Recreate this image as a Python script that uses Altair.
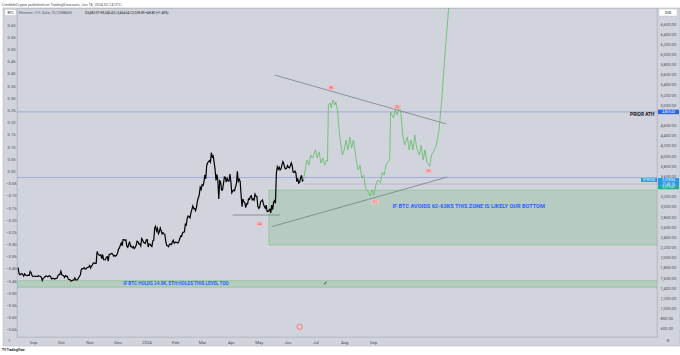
import altair as alt
import pandas as pd

FONT = "Roboto"

# ---------------- data ----------------
# ETH/USD daily closes (Coinbase), 16 Aug 2023 .. 18 Jun 2024
aug23 = [1806,1686,1662,1680,1690,1668,1636,1682,1660,1651,1646,1656,1652,1729,1705,1646]
sep23 = [1628,1635,1636,1630,1633,1633,1646,1635,1635,1616,1551,1593,1607,1626,1641,1636,1623,1638,1645,1623,
         1584,1593,1592,1580,1588,1594,1599,1653,1667,1671]
oct23 = [1733,1664,1654,1647,1611,1645,1633,1633,1579,1568,1566,1540,1552,1557,1557,1600,1565,1564,1567,1604,
         1630,1663,1765,1786,1786,1804,1777,1780,1802,1809,1815]
nov23 = [1846,1797,1834,1859,1894,1899,1886,1888,2120,2077,2054,2046,2057,1980,2060,1962,1960,1962,2012,2022,
         1932,2064,2063,2081,2084,2063,2028,2048,2030,2051]
dec23 = [2089,2165,2192,2242,2292,2232,2358,2358,2341,2351,2225,2203,2260,2316,2220,2227,2196,2217,2177,2201,
         2240,2326,2315,2268,2272,2229,2376,2346,2301,2292,2282]
jan24 = [2352,2356,2210,2268,2269,2240,2222,2331,2343,2585,2619,2524,2576,2472,2512,2587,2528,2467,2490,2469,
         2455,2309,2240,2235,2217,2268,2266,2258,2315,2344,2283]
feb24 = [2303,2307,2296,2290,2319,2373,2426,2420,2487,2503,2505,2658,2643,2776,2822,2806,2785,2882,2945,3016,
         2968,2970,2925,2989,3113,3180,3243,3385,3341]
mar24 = [3433,3421,3489,3630,3554,3816,3870,3893,3913,3879,4066,3983,4005,3877,3741,3521,3643,3516,3157,3516,
         3492,3334,3330,3452,3589,3584,3486,3561,3512,3508,3646]
apr24 = [3500,3279,3311,3330,3318,3394,3456,3699,3506,3545,3504,3240,3006,3155,3101,3084,2985,3063,3056,3156,
         3148,3201,3219,3139,3156,3130,3250,3210,3210,3012]
may24 = [2970,2989,3102,3118,3137,3063,3006,2973,3036,2910,2912,2929,2951,2881,3036,2945,3094,3123,3071,3664,
         3788,3741,3782,3727,3750,3828,3891,3845,3767,3747,3762]
jun24 = [3815,3780,3767,3811,3865,3811,3682,3681,3705,3667,3498,3561,3468,3481,3567,3623,3510,3529]
eth_close = aug23 + sep23 + oct23 + nov23 + dec23 + jan24 + feb24 + mar24 + apr24 + may24 + jun24
eth_start = "2023-08-16"

# projected path (green)
proj_dates = ["2024-06-18","2024-06-20","2024-06-22","2024-06-24","2024-06-26","2024-06-28","2024-07-01",
              "2024-07-03","2024-07-05","2024-07-07","2024-07-09","2024-07-11","2024-07-13","2024-07-14",
              "2024-07-15","2024-07-17","2024-07-18","2024-07-20","2024-07-22","2024-07-23","2024-07-25",
              "2024-07-27","2024-07-30","2024-08-01","2024-08-03","2024-08-05","2024-08-07","2024-08-09",
              "2024-08-11","2024-08-14","2024-08-16","2024-08-18","2024-08-20","2024-08-22","2024-08-24",
              "2024-08-27","2024-08-29","2024-08-31","2024-09-02","2024-09-04","2024-09-06","2024-09-09",
              "2024-09-11","2024-09-13","2024-09-15","2024-09-17","2024-09-19","2024-09-20","2024-09-23",
              "2024-09-25","2024-09-27","2024-09-29","2024-10-01","2024-10-03","2024-10-05","2024-10-08",
              "2024-10-10","2024-10-12","2024-10-14","2024-10-16","2024-10-18","2024-10-21","2024-10-23",
              "2024-10-25","2024-10-27","2024-10-29","2024-11-01","2024-11-03","2024-11-05","2024-11-08",
              "2024-11-11","2024-11-14","2024-11-17","2024-11-20","2024-11-23"]
proj_values = [3529,3726,3923,3824,4021,3962,4120,3962,4080,3864,3962,3824,3923,3900,5006,5045,4946,5104,5006,5065,
               4868,4415,4021,4120,4317,4120,4376,4159,4317,3923,3726,3824,3568,3627,3372,3293,3214,3332,3234,3431,
               3529,3470,3687,3627,3824,3884,3923,4868,4750,4907,4809,4986,4868,4415,4218,4376,4120,4317,4120,4415,
               4159,4021,4218,3923,4120,3884,3800,4021,4080,4200,4500,5104,5891,6580,7270]

# drawn trend lines
trend_names = ["upper", "upper", "lower", "lower", "support", "support"]
trend_dates = ["2024-05-18", "2024-11-19", "2024-05-15", "2024-11-20", "2024-04-03", "2024-05-24"]
trend_values = [5596, 4632, 2610, 3588, 2840, 2840]

# zones
zone_start = ["2024-05-12", "2023-08-01"]
zone_end = ["2025-08-01", "2025-08-01"]
zone_top = [3330, 1548]
zone_bottom = [2250, 1420]
zone_text = ["IF BTC AVOIDS 62-63KS THIS ZONE IS LIKELY OUR BOTTOM",
             "IF BTC HOLDS 24.8K, ETH HOLDS THIS LEVEL TOO"]
zone_text_dates = ["2024-12-13", "2024-02-02"]
zone_text_values = [3010, 1482]
zone_text_sizes = [5.6, 4.6]

# horizontal levels
prior_ath = 4869.43
last_price = 3578.84
second_line = 3450

# wave labels
wave_labels = ["(A)", "(B)", "(C)", "(D)", "(E)"]
wave_dates = ["2024-05-02", "2024-07-18", "2024-09-03", "2024-09-27", "2024-10-31"]
wave_values = [2663, 5346, 3096, 4972, 3706]

# axis ticks
right_ticks = [6600,6400,6200,6000,5800,5600,5400,5200,5000,4600,4400,4200,4000,3800,3600,
               3200,3000,2800,2600,2400,2200,2000,1800,1600,1400,1200,1000,800,600]
left_ticks = [0.60,0.55,0.50,0.45,0.40,0.35,0.30,0.25,0.20,0.15,0.10,0.05,0.00,-0.05,-0.10,
              -0.15,-0.20,-0.25,-0.30,-0.35,-0.40,-0.45,-0.50,-0.55,-0.60,-0.65]
month_ticks = [(2023,9),(2023,10),(2023,11),(2023,12),(2024,1),(2024,2),(2024,3),(2024,4),
               (2024,5),(2024,6),(2024,7),(2024,8),(2024,9)]

# ---------------- scales / axes ----------------
AX_COLOR = "#4a4d57"
xscale = alt.Scale(type="utc",
                   domain=[alt.DateTime(year=2023, month=8, date=14, hours=19, utc=True),
                           alt.DateTime(year=2025, month=7, date=3, hours=17, utc=True)])
xaxis = alt.Axis(values=[alt.DateTime(year=y, month=m, date=1, utc=True) for y, m in month_ticks],
                 labelExpr="utcmonth(datum.value)==0 ? utcFormat(datum.value,'%Y') : utcFormat(datum.value,'%b')",
                 ticks=False, domain=False, grid=False, labelFontSize=4.3, labelColor=AX_COLOR,
                 labelFont=FONT, labelPadding=3, title=None, labelOverlap=False, labelFlush=False)
yscale = alt.Scale(domain=[439, 6915], nice=False, zero=False)
yaxis = alt.Axis(orient="right", values=right_ticks, format=",.2f", ticks=False, domain=False, grid=False,
                 labelFontSize=4.1, labelColor=AX_COLOR, labelFont=FONT, labelPadding=3, title=None,
                 labelOverlap=False, labelFlush=False)


def X(f):
    return alt.X(f, type="temporal", scale=xscale, axis=xaxis)


def Y(f):
    return alt.Y(f, type="quantitative", scale=yscale, axis=yaxis)


one = alt.Data(values=[{"k": 1}])

# ---------------- frames ----------------
eth_df = pd.DataFrame({"d": pd.date_range(eth_start, periods=len(eth_close), freq="D").strftime("%Y-%m-%d"),
                       "v": eth_close})
proj_df = pd.DataFrame({"d": proj_dates, "v": proj_values})
trend_df = pd.DataFrame({"name": trend_names, "d": trend_dates, "v": trend_values})
zone_df = pd.DataFrame({"d1": zone_start, "d2": zone_end, "top": zone_top, "bot": zone_bottom})
ztext_df = pd.DataFrame({"d": zone_text_dates, "v": zone_text_values, "t": zone_text, "s": zone_text_sizes})
wave_df = pd.DataFrame({"d": wave_dates, "v": wave_values, "t": wave_labels})

layers = []

# white strips around the panel
for x1, x2, y1, y2 in [(-17, 663, -8, 0), (-17, 663, 338, 347), (-17, -14, -8, 347)]:
    layers.append(alt.Chart(one).mark_rect(color="white").encode(
        x=alt.value(x1), x2=alt.value(x2), y=alt.value(y1), y2=alt.value(y2)))
# panel border
layers.append(alt.Chart(one).mark_rect(fill=None, stroke="#b8bbc4", strokeWidth=0.6).encode(
    x=alt.value(-14), x2=alt.value(663), y=alt.value(0), y2=alt.value(338)))

# zones
layers.append(alt.Chart(zone_df).mark_rect(fill="#4caf50", fillOpacity=0.2, stroke="#6fbf73",
                                           strokeWidth=0.5, clip=True).encode(
    x=X("d1"), x2=alt.X2("d2"), y=Y("top"), y2=alt.Y2("bot")))

# horizontal levels
lev_df = pd.DataFrame({"v": [prior_ath, last_price]})
layers.append(alt.Chart(lev_df).mark_rule(color="#7d95d6", strokeWidth=0.6).encode(y=Y("v")))
sec_df = pd.DataFrame({"d1": ["2024-06-18"], "d2": ["2025-08-01"], "v": [second_line]})
layers.append(alt.Chart(sec_df).mark_rule(color="#9aa0b0", strokeWidth=0.5, clip=True).encode(
    x=X("d1"), x2=alt.X2("d2"), y=Y("v")))

# trend lines
layers.append(alt.Chart(trend_df).mark_line(color="#6f7280", strokeWidth=0.7).encode(
    x=X("d"), y=Y("v"), detail="name:N"))

# price
layers.append(alt.Chart(eth_df).mark_line(color="#000000", strokeWidth=1.2).encode(x=X("d"), y=Y("v")))
# projection
layers.append(alt.Chart(proj_df).mark_line(color="#6cbf70", strokeWidth=0.9, clip=True).encode(
    x=X("d"), y=Y("v")))

# wave labels
layers.append(alt.Chart(wave_df).mark_point(shape="M-1,-0.5L1,-0.5L1,0.5L-1,0.5Z", size=64,
                                            filled=True, fill="#f4c3c8", opacity=1, strokeWidth=0).encode(
    x=X("d"), y=Y("v")))
layers.append(alt.Chart(wave_df).mark_text(color="#f23645", fontSize=3.4, font=FONT).encode(
    x=X("d"), y=Y("v"), text="t:N"))

# zone texts
for i in range(len(zone_text)):
    layers.append(alt.Chart(ztext_df.iloc[[i]]).mark_text(color="#2962ff", fontSize=zone_text_sizes[i],
                                                          fontWeight="bold", font=FONT).encode(
        x=X("d"), y=Y("v"), text="t:N"))

# PRIOR ATH
ath_txt = pd.DataFrame({"d": ["2025-07-01"], "v": [4800], "t": ["PRIOR ATH"]})
layers.append(alt.Chart(ath_txt).mark_text(color="#131722", fontSize=4.8, fontWeight="bold", align="right",
                                           font=FONT).encode(x=X("d"), y=Y("v"), text="t:N"))

# check mark
chk = pd.DataFrame({"d": ["2024-07-12"], "v": [1500], "t": ["✓"]})
layers.append(alt.Chart(chk).mark_text(color="#333333", fontSize=6, font="DejaVu Sans").encode(
    x=X("d"), y=Y("v"), text="t:N"))

# event icon near bottom
ev = pd.DataFrame({"d": ["2024-06-14"], "v": [640]})
layers.append(alt.Chart(ev).mark_point(shape="circle", size=28, filled=True, fill="#f7c6cc",
                                       stroke="#e5484d", strokeWidth=0.6, opacity=1).encode(x=X("d"), y=Y("v")))

# right-axis price tags
TAG_OFF = 2.5
tags = pd.DataFrame({
    "t": ["4,869.43", "3,578.84", "21:45:16", "3,579.47"],
    "v": [prior_ath, last_price, last_price - 72, last_price - 145],
    "c": ["#2962ff", "#2196f3", "#2196f3", "#22ab94"],
    "o": [0, TAG_OFF, TAG_OFF, TAG_OFF],
})
tags["hi"] = tags["v"] + 38
tags["lo"] = tags["v"] - 38
tags.loc[0, "hi"] = prior_ath + 45
tags.loc[0, "lo"] = prior_ath - 45
for i in range(len(tags)):
    row = tags.iloc[[i]]
    off = float(row["o"].iloc[0])
    layers.append(alt.Chart(row).mark_rect(yOffset=off, y2Offset=off).encode(
        x=alt.value(641), x2=alt.value(662), y=Y("hi"), y2=alt.Y2("lo"), color=alt.Color("c:N", scale=None)))
    layers.append(alt.Chart(row).mark_text(color="white", fontSize=3.3, font=FONT, yOffset=off).encode(
        x=alt.value(651.5), y=Y("v"), text="t:N"))
eth_tag = pd.DataFrame({"hi": [last_price + 38], "lo": [last_price - 38], "v": [last_price], "t": ["ETHUSD"]})
layers.append(alt.Chart(eth_tag).mark_rect(color="#2196f3", yOffset=TAG_OFF, y2Offset=TAG_OFF).encode(
    x=alt.value(624), x2=alt.value(640), y=Y("hi"), y2=alt.Y2("lo")))
layers.append(alt.Chart(eth_tag).mark_text(color="white", fontSize=3.2, font=FONT, yOffset=TAG_OFF).encode(
    x=alt.value(632), y=Y("v"), text="t:N"))

# header / legend / footer texts
layers.append(alt.Chart(one).mark_text(
    text="CredibleCrypto published on TradingView.com, Jun 18, 2024 02:14 UTC",
    align="left", fontSize=3.8, color="#50535e", font=FONT).encode(x=alt.value(-15), y=alt.value(-3.5)))
layers.append(alt.Chart(one).mark_rect(fill="white", stroke="#b8bbc4", strokeWidth=0.4).encode(
    x=alt.value(-12), x2=alt.value(-1), y=alt.value(1.5), y2=alt.value(7.5)))
layers.append(alt.Chart(one).mark_text(text="BTC", fontSize=3.4, color="#131722", font=FONT).encode(
    x=alt.value(-6.5), y=alt.value(4.6)))
layers.append(alt.Chart(one).mark_text(text="Ethereum / U.S. Dollar, 1D, COINBASE",
                                       align="left", fontSize=3.2, color="#50535e", font=FONT).encode(
    x=alt.value(2), y=alt.value(4.6)))
layers.append(alt.Chart(one).mark_text(
    text="O3,482.07  H3,545.43  L3,464.64  C3,528.89  +48.80 (+1.40%)",
    align="left", fontSize=3.2, color="#131722", font=FONT).encode(x=alt.value(68), y=alt.value(4.6)))
layers.append(alt.Chart(one).mark_rect(fill="white", stroke="#b8bbc4", strokeWidth=0.4).encode(
    x=alt.value(642), x2=alt.value(660), y=alt.value(1), y2=alt.value(8)))
layers.append(alt.Chart(one).mark_text(text="USD", fontSize=3.4, color="#131722", font=FONT).encode(
    x=alt.value(651), y=alt.value(4.6)))
layers.append(alt.Chart(one).mark_text(text="1", fontSize=4, color="#50535e", font=FONT).encode(
    x=alt.value(-8), y=alt.value(333)))
layers.append(alt.Chart(one).mark_text(text="⚙", fontSize=4, color="#50535e", font="DejaVu Sans").encode(
    x=alt.value(651), y=alt.value(333)))
layers.append(alt.Chart(one).mark_text(text="TV TradingView", align="left", fontSize=3.2, fontWeight="bold",
                                       color="#131722", font=FONT).encode(x=alt.value(-15), y=alt.value(342)))

main = alt.layer(*layers)

left_df = pd.DataFrame({"p": [-0.6787, 0.6697]})
left = alt.Chart(left_df).mark_point(opacity=0).encode(
    y=alt.Y("p:Q", scale=alt.Scale(domain=[-0.6787, 0.6697], nice=False, zero=False),
            axis=alt.Axis(orient="left", values=left_ticks, format=".2f", ticks=False, domain=False,
                          grid=False, labelFontSize=4.1, labelColor=AX_COLOR, labelFont=FONT,
                          labelAlign="center", labelPadding=6, title=None, labelOverlap=False,
                          labelFlush=False)))

chart = alt.layer(main, left).resolve_scale(y="independent").properties(
    width=640, height=329,
    autosize=alt.AutoSizeParams(type="none"),
    padding={"left": 17, "top": 8, "right": 23, "bottom": 18},
    background="#d1d4dc",
).configure_view(stroke="#a9acb5", strokeWidth=0.7)

chart.save("out.html", embed_options={"renderer": "svg", "actions": False})
